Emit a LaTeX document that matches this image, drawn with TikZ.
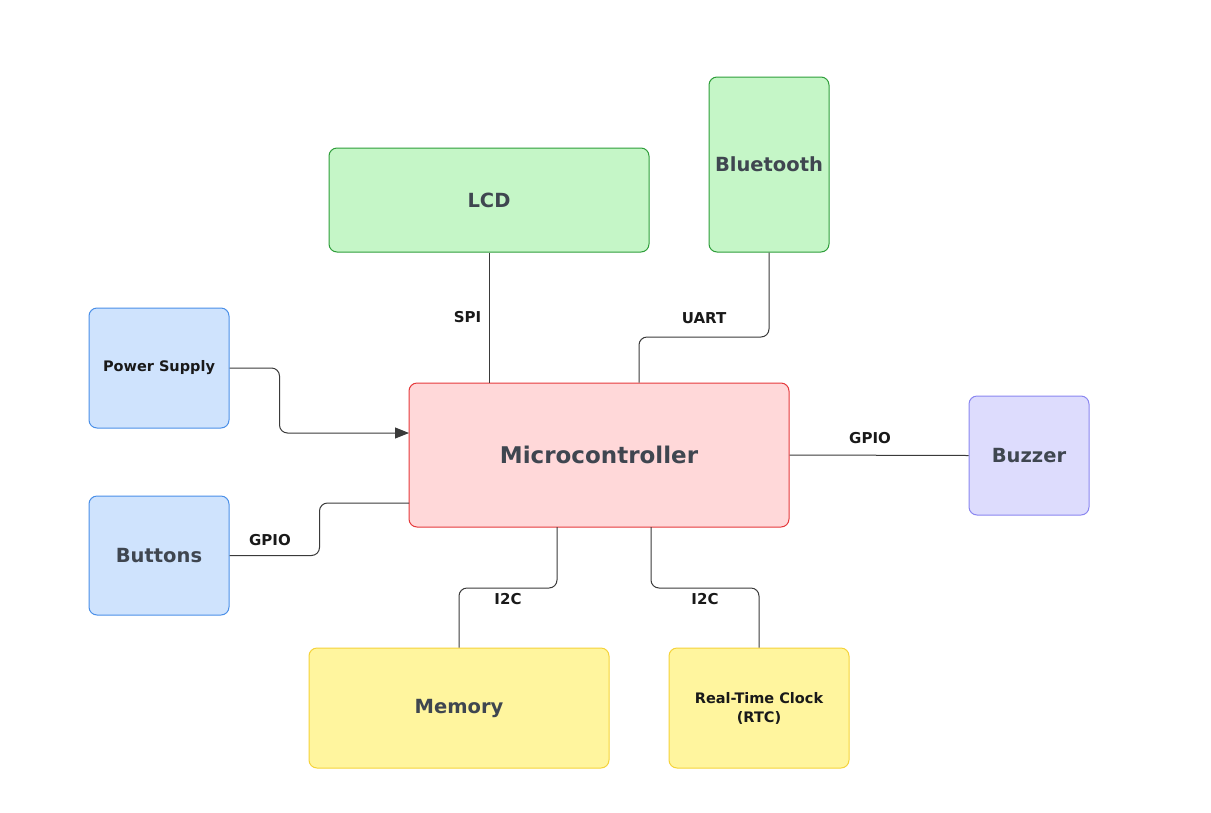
\documentclass[tikz,border=0pt]{standalone}
\usepackage{fontspec}
\setmainfont{DejaVu Sans}
\usepackage{tikz}
\usetikzlibrary{arrows.meta}
\definecolor{grnfill}{HTML}{C5F6C7}
\definecolor{grnline}{HTML}{2E9E3A}
\definecolor{blufill}{HTML}{CFE3FD}
\definecolor{bluline}{HTML}{4A8FE8}
\definecolor{redfill}{HTML}{FFD8D9}
\definecolor{redline}{HTML}{E5393B}
\definecolor{lavfill}{HTML}{DDDCFD}
\definecolor{lavline}{HTML}{8A86F0}
\definecolor{yelfill}{HTML}{FFF59E}
\definecolor{yelline}{HTML}{F5D33A}
\definecolor{txtgray}{HTML}{3F4650}
\definecolor{wire}{HTML}{3A3A3A}

\begin{document}
\begin{tikzpicture}[x=1pt,y=-1pt,
     box/.style={draw,rounded corners=8pt,line width=1pt,inner sep=0pt,
       align=center,font=\bfseries\fontsize{19.5}{23}\selectfont,text=txtgray},
     small/.style={font=\bfseries\fontsize{14.5}{19}\selectfont,text=black!90},
     grn/.style={box,fill=grnfill,draw=grnline},
     blu/.style={box,fill=blufill,draw=bluline},
     red/.style={box,fill=redfill,draw=redline},
     lav/.style={box,fill=lavfill,draw=lavline},
     yel/.style={box,fill=yelfill,draw=yelline},
     lab/.style={font=\bfseries\fontsize{15}{17}\selectfont,text=black!90},
     wire/.style={draw=wire,line width=1pt,rounded corners=8pt}]
    \useasboundingbox (0,0) rectangle (1211,812);
    \node[grn,minimum width=320pt,minimum height=104pt] (lcd) at (489,200) {LCD};
    \node[grn,minimum width=120pt,minimum height=175pt] (bt) at (769,164.5) {Bluetooth};
    \node[blu,small,minimum width=140pt,minimum height=120pt] (psu) at (159,368) {Power Supply};
    \node[red,minimum width=380pt,minimum height=144pt,
      font=\bfseries\fontsize{23}{27}\selectfont] (mcu) at (599,455) {Microcontroller};
    \node[lav,minimum width=120pt,minimum height=119pt] (buzz) at (1029,455.5) {Buzzer};
    \node[blu,minimum width=140pt,minimum height=119pt] (btn) at (159,555.5) {Buttons};
    \node[yel,minimum width=300pt,minimum height=120pt] (mem) at (459,708) {Memory};
    \node[yel,small,minimum width=180pt,minimum height=120pt] (rtc) at (759,708)
      {Real-Time Clock\\(RTC)};
    % bus wires
    \coordinate (uart) at (639,337);
    \coordinate (pwr) at (409,433);
    \coordinate (gpin) at (409,503);
    \coordinate (memout) at (557,527);
    \coordinate (rtcout) at (651,527);
    \draw[wire] (lcd.south) -- node[lab,left=4pt] {SPI} (lcd.south |- mcu.north);
    \draw[wire] (bt.south) |- node[lab,pos=0.75,above=9pt] {UART} (uart) -- (uart |- mcu.north);
    \draw[wire,-{Triangle[length=14pt,width=11pt]}] (psu.east) -- ++(50,0) |- (pwr);
    \draw[wire] (btn.east) -- node[lab,above=6pt,pos=0.45] {GPIO} ++(90,0) |- (gpin);
    \draw[wire] (mcu.east) -- node[lab,above=8pt,pos=0.45] {GPIO} (buzz.west);
    \draw[wire] (memout) -- ++(0,61) -| node[lab,pos=0.25,below=2pt] {I2C} (mem.north);
    \draw[wire] (rtcout) -- ++(0,61) -| node[lab,pos=0.25,below=2pt] {I2C} (rtc.north);
  \end{tikzpicture}
\end{document}
